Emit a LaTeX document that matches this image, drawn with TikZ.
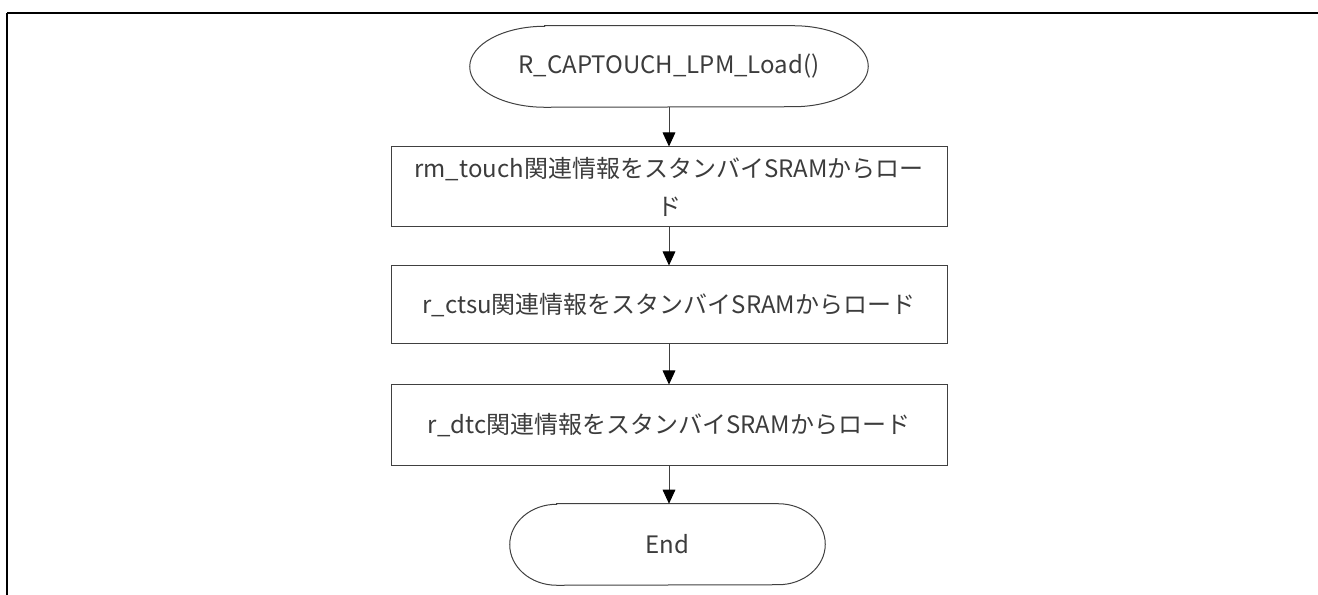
\documentclass[tikz,border=0pt]{standalone}
\usepackage{fontspec}
\setmainfont{Noto Sans CJK JP}
\usetikzlibrary{arrows.meta,calc}

\definecolor{ink}{HTML}{404040}
\definecolor{textink}{HTML}{3C3C3C}

\tikzset{
  flowtext/.style={text=textink, font=\fontsize{18pt}{28.5pt}\selectfont, align=center, inner sep=0pt},
  procbox/.style={flowtext, draw=ink, line width=0.75pt, minimum width=417pt, minimum height=60pt},
  terminal/.style={flowtext, minimum height=60.75pt},
  flowarrow/.style={draw=ink, line width=0.75pt, -{Triangle[width=9.5pt,length=10.5pt,color=black,fill=black]}},
  termline/.style={draw=ink, line width=0.75pt},
  frameline/.style={draw=black, line width=1.6pt}
}

% stadium outline around a terminal node, with elliptical end caps of
% horizontal radius #2 (px) and vertical radius #3 (pt)
\newcommand\termoutline[3]{%
  \draw[termline] ($(#1.north west)+(#2,0)$) -- ($(#1.north east)+(-#2,0)$)
    arc[start angle=90, end angle=-90, x radius=#2*0.75pt, y radius=#3]
    -- ($(#1.south west)+(#2,0)$)
    arc[start angle=270, end angle=90, x radius=#2*0.75pt, y radius=#3]
    -- cycle;}

\begin{document}
\begin{tikzpicture}[x=0.75pt, y=-0.75pt]
  \useasboundingbox (0,0) rectangle (1318,595);

  % page frame: top and left edges
  \draw[frameline] (7,13) -- (1318,13);
  \draw[frameline] (7,13) -- (7,595);

  % flow nodes
  \node[terminal, minimum width=298.5pt] (start) at (669,66.5) {R\_CAPTOUCH\_LPM\_Load()};
  \node[procbox] (rmtouch) at (669,187) {rm\_touch関連情報をスタンバイSRAMからロー\\ド};
  \node[procbox, minimum height=58.5pt] (ctsu) at (669,305) {r\_ctsu関連情報をスタンバイSRAMからロード};
  \node[procbox] (dtc) at (669,425) {r\_dtc関連情報をスタンバイSRAMからロード};
  \node[terminal, minimum width=236.25pt] (stop) at (667.5,544.5) {End};

  \termoutline{start}{75}{30.375pt}
  \termoutline{stop}{47}{30.375pt}

  % connectors
  \draw[flowarrow] (start.south) -- (rmtouch.north);
  \draw[flowarrow] (rmtouch.south) -- (ctsu.north);
  \draw[flowarrow] (ctsu.south) -- (dtc.north);
  \draw[flowarrow] (dtc.south) -- (dtc.south |- stop.north);
\end{tikzpicture}
\end{document}
